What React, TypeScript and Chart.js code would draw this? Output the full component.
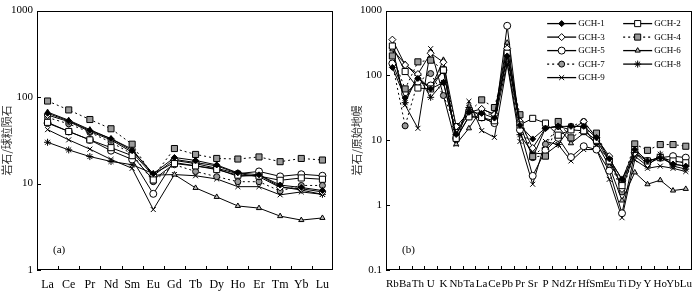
import React, { useEffect, useRef } from 'react';
import { Chart, registerables } from 'chart.js';
Chart.register(...registerables);

// ---------- data ----------
const reeLabels = ['La', 'Ce', 'Pr', 'Nd', 'Sm', 'Eu', 'Gd', 'Tb', 'Dy', 'Ho', 'Er', 'Tm', 'Yb', 'Lu'];
const spiderLabels = ['Rb', 'Ba', 'Th', 'U', 'K', 'Nb', 'Ta', 'La', 'Ce', 'Pb', 'Pr', 'Sr', 'P', 'Nd', 'Zr', 'Hf', 'Sm', 'Eu', 'Ti', 'Dy', 'Y', 'Ho', 'Yb', 'Lu'];
const seriesNames = ['GCH-1', 'GCH-2', 'GCH-3', 'GCH-4', 'GCH-5', 'GCH-6', 'GCH-7', 'GCH-8', 'GCH-9'];
const reeTicks = [1, 10, 100, 1000];
const spiderTicks = [0.1, 1, 10, 100, 1000];

// chondrite-normalised REE
const reeGCH1 = [65, 53, 41, 33, 24, 13, 20, 18.5, 16.4, 13.3, 12.6, 9.6, 9, 8.3];
const reeGCH2 = [51, 40, 32, 26, 21, 11, 17, 16, 14.5, 12.5, 12.2, 10.9, 11.6, 11.2];
const reeGCH3 = [62, 52, 40, 32, 23, 12.3, 19, 17.5, 16, 13.1, 12, 9, 8.7, 8.0];
const reeGCH4 = [90, 71, 55, 43, 28.5, 12, 25.4, 21.7, 19.5, 19.2, 20.3, 17.9, 19.5, 18.7];
const reeGCH5 = [50, 40, 32, 24, 19, 7.6, 18.5, 17, 15, 13, 13.8, 12.1, 12.8, 12.3];
const reeGCH6 = [67, 54, 42, 33, 25, 12.5, 12.7, 8.9, 7.0, 5.5, 5.2, 4.2, 3.78, 4.0];
const reeGCH7 = [58, 49, 39, 30, 22, 10.5, 16.5, 13.8, 12, 10.5, 10.5, 8.2, 9.5, 9.5];
const reeGCH8 = [30, 24.5, 20.5, 18, 16.5, 13, 17.5, 16, 14.8, 12.1, 12.5, 9.2, 8.4, 7.5];
const reeGCH9 = [42, 32, 25, 19, 15, 5.0, 12.7, 12.3, 11.3, 9.2, 9.2, 7.4, 8.0, 7.5];

// primitive-mantle-normalised trace elements
const spGCH1 = [133, 45, 90, 62, 78, 12.3, 27, 26, 22, 200, 17, 10.5, 15.4, 16.4, 16.4, 16.4, 10.9, 5.2, 2.5, 7.2, 4.8, 5.4, 4.3, 4.0];
const spGCH2 = [284, 115, 64, 62, 121, 10.7, 23, 22.5, 20, 220, 17.3, 21.8, 18.4, 12, 14.5, 14, 10, 4.8, 2.0, 7.2, 4.8, 5.4, 4.8, 4.5];
const spGCH3 = [357, 145, 105, 220, 160, 16.3, 27, 30.5, 25, 260, 19.6, 7.6, 15.4, 16.4, 14.5, 19.5, 10.9, 5.7, 1.78, 6.4, 4.3, 5.4, 4.3, 4.0];
const spGCH4 = [200, 62, 162, 172, 121, 16.3, 27, 42, 32, 180, 24.8, 5.6, 5.7, 19.5, 10.9, 14.5, 12.9, 4.8, 2.24, 8.8, 7.0, 8.6, 8.6, 8.1];
const spGCH5 = [153, 52, 80, 70, 121, 10.7, 23.4, 22.5, 18.4, 583, 14.5, 2.83, 7.0, 10.9, 5.5, 8.1, 7.2, 3.4, 0.75, 6.4, 4.8, 5.4, 5.7, 5.4];
const spGCH6 = [252, 150, 95, 62, 174, 8.7, 15.3, 30.5, 25, 320, 17.3, 5.4, 15.4, 16.4, 9, 12.9, 9.1, 4.0, 1.18, 3.2, 2.1, 2.43, 1.68, 1.78];
const spGCH7 = [153, 16.7, 80, 107, 49, 16.3, 23.4, 26, 25, 170, 17.3, 5.4, 8.7, 16.4, 16.4, 19.5, 10.9, 5.0, 1.6, 6.4, 4.8, 5.4, 4.8, 4.5];
const spGCH8 = [270, 38, 100, 46, 78, 12.3, 32, 22.5, 18.4, 160, 12.2, 6.4, 6.1, 8.6, 16.4, 16.4, 8.1, 5.2, 2.5, 5.7, 4.0, 6.1, 4.0, 3.6];
const spGCH9 = [260, 35, 15.3, 259, 49, 8.7, 40, 14.1, 11.1, 150, 9.6, 2.1, 9.6, 8.6, 4.8, 7.2, 7.2, 2.5, 0.64, 5.0, 3.7, 4.0, 3.7, 3.3];

const reeData = [reeGCH1, reeGCH2, reeGCH3, reeGCH4, reeGCH5, reeGCH6, reeGCH7, reeGCH8, reeGCH9];
const spiderData = [spGCH1, spGCH2, spGCH3, spGCH4, spGCH5, spGCH6, spGCH7, spGCH8, spGCH9];

// ---------- styles ----------
type St = { shape: string; r: number; fill: string; dash: number[] };
const GREY = '#9a9a9a';
const styles: St[] = [
  { shape: 'rectRot', r: 3, fill: '#000', dash: [] },
  { shape: 'rect', r: 4.3, fill: '#fff', dash: [] },
  { shape: 'rectRot', r: 3.5, fill: '#fff', dash: [] },
  { shape: 'rect', r: 4.3, fill: GREY, dash: [2, 3] },
  { shape: 'circle', r: 3.5, fill: '#fff', dash: [] },
  { shape: 'triangle', r: 3, fill: '#bbb', dash: [] },
  { shape: 'circle', r: 3, fill: GREY, dash: [2, 3] },
  { shape: 'star', r: 3.5, fill: '#000', dash: [] },
  { shape: 'crossRot', r: 3.5, fill: '#000', dash: [] },
];

const SERIF = "'Liberation Serif', 'Times New Roman', serif";

function drawMarker(ctx: CanvasRenderingContext2D, s: St, x: number, y: number) {
  ctx.save();
  ctx.setLineDash([]);
  ctx.lineWidth = 1;
  ctx.strokeStyle = '#000';
  ctx.fillStyle = s.fill;
  const r = s.r;
  ctx.beginPath();
  if (s.shape === 'circle') {
    ctx.arc(x, y, r, 0, Math.PI * 2);
    ctx.fill(); ctx.stroke();
  } else if (s.shape === 'rect') {
    const h = r * Math.SQRT1_2;
    ctx.rect(x - h, y - h, 2 * h, 2 * h);
    ctx.fill(); ctx.stroke();
  } else if (s.shape === 'rectRot') {
    ctx.moveTo(x - r, y); ctx.lineTo(x, y - r); ctx.lineTo(x + r, y); ctx.lineTo(x, y + r); ctx.closePath();
    ctx.fill(); ctx.stroke();
  } else if (s.shape === 'triangle') {
    ctx.moveTo(x, y - r); ctx.lineTo(x + r * 0.87, y + r / 2); ctx.lineTo(x - r * 0.87, y + r / 2); ctx.closePath();
    ctx.fill(); ctx.stroke();
  } else if (s.shape === 'crossRot' || s.shape === 'star') {
    const d = r * Math.SQRT1_2;
    ctx.moveTo(x - d, y - d); ctx.lineTo(x + d, y + d);
    ctx.moveTo(x - d, y + d); ctx.lineTo(x + d, y - d);
    if (s.shape === 'star') { ctx.moveTo(x - r, y); ctx.lineTo(x + r, y); ctx.moveTo(x, y - r); ctx.lineTo(x, y + r); }
    ctx.stroke();
  }
  ctx.restore();
}

const framePlugin = {
  id: 'frame',
  beforeDatasetsDraw(chart: any, _args: any, opts: any) {
    const { ctx, chartArea: a, scales } = chart;
    ctx.save();
    ctx.strokeStyle = '#000';
    ctx.lineWidth = 1;
    ctx.strokeRect(Math.round(a.left) + 0.5, Math.round(a.top) + 0.5, Math.round(a.right - a.left) - 1, Math.round(a.bottom - a.top) - 1);
    const xs = scales.x;
    const n = xs.ticks.length;
    const half = (xs.getPixelForValue(1) - xs.getPixelForValue(0)) / 2;
    ctx.beginPath();
    for (let i = 1; i < n; i++) {
      const x = Math.round(xs.getPixelForValue(i) - half) + 0.5;
      ctx.moveTo(x, a.bottom);
      ctx.lineTo(x, a.bottom - 4);
    }
    const ys = scales.y;
    for (const v of opts.yticks || []) {
      const y = Math.round(ys.getPixelForValue(v)) + 0.5;
      ctx.moveTo(a.left, y);
      ctx.lineTo(a.left + 4, y);
    }
    ctx.stroke();
    ctx.restore();
  },
  afterDraw(chart: any, _args: any, opts: any) {
    const { ctx, chartArea: a } = chart;
    ctx.save();
    ctx.fillStyle = '#000';
    ctx.font = `11px ${SERIF}`;
    ctx.textBaseline = 'middle';
    ctx.textAlign = 'left';
    ctx.fillText(opts.label, a.left + 16, a.bottom - 20);
    if (opts.legend) {
      ctx.font = `9px ${SERIF}`;
      seriesNames.forEach((name, i) => {
        const col = i % 2;
        const row = Math.floor(i / 2);
        const x0 = a.right - (col === 0 ? 145 : 69);
        const y = a.top + 13 + row * 13.5;
        const s = styles[i];
        ctx.save();
        ctx.strokeStyle = '#000';
        ctx.lineWidth = s.dash.length ? 1.2 : 1.3;
        ctx.setLineDash(s.dash);
        ctx.beginPath();
        ctx.moveTo(x0, y); ctx.lineTo(x0 + 29, y);
        ctx.stroke();
        ctx.restore();
        drawMarker(ctx, s, x0 + 14.5, y);
        ctx.fillStyle = '#000';
        ctx.fillText(name, x0 + 31, y + 0.5);
      });
    }
    ctx.restore();
  },
};

function makeConfig(labels: string[], data: number[][], yTicks: number[], yMin: number, yMax: number,
  title: string, yWidth: number, padRight: number, xFont: number, label: string, legend: boolean): any {
  return {
    type: 'line',
    data: {
      labels,
      datasets: seriesNames.map((name, i) => ({
        label: name,
        data: data[i],
        borderColor: '#000',
        borderWidth: 1,
        borderDash: styles[i].dash,
        pointStyle: styles[i].shape,
        pointRadius: styles[i].r,
        pointBackgroundColor: styles[i].fill,
        pointBorderColor: '#000',
        pointBorderWidth: 1,
        tension: 0,
        fill: false,
      })),
    },
    options: {
      responsive: false,
      animation: false,
      events: [],
      layout: { padding: { left: 0, top: 7, right: padRight, bottom: 0 } },
      plugins: {
        legend: { display: false },
        tooltip: { enabled: false },
        frame: { label, legend, yticks: yTicks },
      },
      scales: {
        x: {
          type: 'category',
          offset: true,
          grid: { display: false, drawTicks: false },
          border: { display: false },
          ticks: { autoSkip: false, maxRotation: 0, minRotation: 0, padding: 8, color: '#000', font: { family: SERIF, size: xFont } },
          afterFit: (s: any) => { s.height = 22; },
        },
        y: {
          type: 'logarithmic',
          min: yMin,
          max: yMax,
          grid: { display: false, drawTicks: false },
          border: { display: false },
          afterBuildTicks: (s: any) => { s.ticks = yTicks.map((v) => ({ value: v })); },
          ticks: { padding: 4, color: '#000', font: { family: SERIF, size: 11 }, callback: (v: any) => String(v) },
          title: { display: true, text: title, color: '#333', padding: 0, font: { family: "'Noto Sans CJK SC', sans-serif", size: 11 } },
          afterFit: (s: any) => { s.width = yWidth; },
        },
      },
    },
    plugins: [framePlugin],
  };
}

function Panel({ cfg, left }: { cfg: () => any; left: number }) {
  const ref = useRef<HTMLCanvasElement | null>(null);
  useEffect(() => {
    const chart = new Chart(ref.current as HTMLCanvasElement, cfg());
    return () => chart.destroy();
  }, []);
  return (
    <canvas ref={ref} width={350} height={292}
      style={{ position: 'absolute', left, top: 0, width: 350, height: 292 }} />
  );
}

export default function App() {
  return (
    <div style={{ position: 'absolute', left: 0, top: 0, width: 700, height: 292, background: '#fff' }}>
      <Panel left={0} cfg={() => makeConfig(reeLabels, reeData, reeTicks, 1, 1000, '岩石/球粒陨石', 37, 17, 12, '(a)', false)} />
      <Panel left={350} cfg={() => makeConfig(spiderLabels, spiderData, spiderTicks, 0.1, 1000, '岩石/原始地幔', 36, 3, 11, '(b)', true)} />
    </div>
  );
}
